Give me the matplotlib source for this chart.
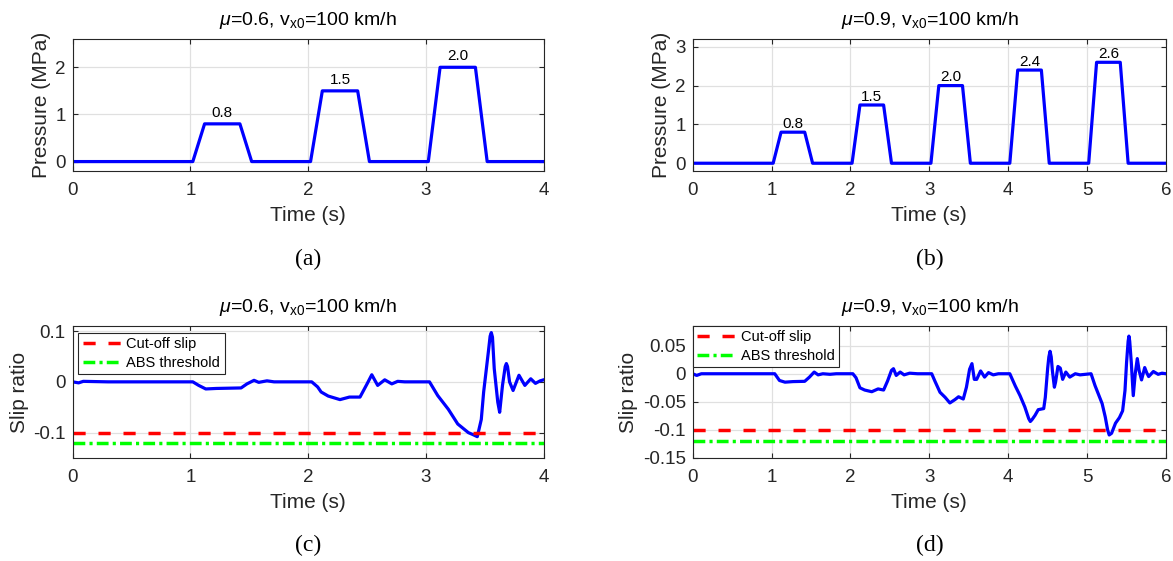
import matplotlib.pyplot as plt

plt.rcParams['font.family'] = ['Liberation Sans', 'DejaVu Sans']
plt.rcParams['mathtext.fontset'] = 'custom'
plt.rcParams['mathtext.rm'] = 'Liberation Sans'
plt.rcParams['mathtext.it'] = 'Liberation Sans:italic'

# Pressure profiles (vertices of the trapezoids)
t_press_a = [0, 1.02, 1.12, 1.42, 1.52, 2.02, 2.12, 2.42, 2.52, 3.02, 3.12, 3.42, 3.52, 4.0]
p_a = [0, 0, 0.8, 0.8, 0, 0, 1.5, 1.5, 0, 0, 2.0, 2.0, 0, 0]
t_press_b = [0, 1.02, 1.12, 1.42, 1.52, 2.02, 2.12, 2.42, 2.52, 3.02, 3.12, 3.42, 3.52,
             4.02, 4.12, 4.42, 4.52, 5.02, 5.12, 5.42, 5.52, 6.0]
p_b = [0, 0, 0.8, 0.8, 0, 0, 1.5, 1.5, 0, 0, 2.0, 2.0, 0,
       0, 2.4, 2.4, 0, 0, 2.6, 2.6, 0, 0]
levels_a = [0.8, 1.5, 2.0]
level_t_a = [1.27, 2.27, 3.27]
levels_b = [0.8, 1.5, 2.0, 2.4, 2.6]
level_t_b = [1.27, 2.27, 3.27, 4.27, 5.27]

# Slip ratio, mu = 0.6
t_slip_c = [0, 0.05, 0.09, 0.3, 0.6, 1.02, 1.07, 1.13, 1.22, 1.43, 1.48, 1.54, 1.58, 1.65, 1.71,
            2.03, 2.08, 2.11, 2.17, 2.27, 2.35, 2.44, 2.5, 2.54, 2.59, 2.65, 2.71, 2.76, 2.82,
            3.03, 3.1, 3.19, 3.27, 3.36, 3.4, 3.436, 3.47, 3.49, 3.53, 3.545, 3.555, 3.565,
            3.58, 3.61, 3.626, 3.65, 3.673, 3.683, 3.693, 3.71, 3.74, 3.79, 3.84, 3.89, 3.93,
            3.97, 4.0]
slip_c = [0, -0.002, 0.001, 0, 0, 0, -0.007, -0.014, -0.013, -0.012, -0.004, 0.003, -0.001, 0.002, 0,
          0, -0.01, -0.02, -0.028, -0.035, -0.03, -0.03, -0.004, 0.014, -0.007, 0.004, -0.004, 0.001, 0,
          0, -0.027, -0.054, -0.083, -0.1, -0.104, -0.108, -0.074, -0.02, 0.059, 0.09, 0.097, 0.088,
          0.026, -0.04, -0.06, -0.007, 0.03, 0.036, 0.03, 0.0, -0.017, 0.013, -0.007, 0.006, -0.003,
          0.002, 0.004]

# Slip ratio, mu = 0.9
t_slip_d = [0, 0.05, 0.11, 0.5, 1.04, 1.1, 1.17, 1.27, 1.42, 1.48, 1.54, 1.59, 1.65, 1.74, 1.82,
            2.03, 2.07, 2.12, 2.18, 2.27, 2.35, 2.42, 2.47, 2.52, 2.545, 2.58, 2.63, 2.68, 2.75, 2.85,
            3.03, 3.07, 3.135, 3.2, 3.26, 3.325, 3.37, 3.43, 3.47, 3.51, 3.54, 3.57, 3.6, 3.65,
            3.70, 3.75, 3.81, 3.875, 4.02, 4.09, 4.15, 4.21, 4.26, 4.28, 4.3, 4.34, 4.38, 4.45,
            4.47, 4.5, 4.515, 4.53, 4.545, 4.56, 4.585, 4.6, 4.63, 4.66, 4.69, 4.73, 4.78, 4.85,
            4.91, 5.05, 5.1, 5.19, 5.23, 5.26, 5.28, 5.31, 5.36, 5.41, 5.45, 5.48, 5.5, 5.52,
            5.53, 5.54, 5.56, 5.585, 5.61, 5.636, 5.66, 5.69, 5.71, 5.73, 5.755, 5.78, 5.84,
            5.9, 5.95, 6.0]
slip_d = [0, -0.003, 0, 0, 0, -0.012, -0.015, -0.014, -0.0135, -0.006, 0.003, -0.002, 0, -0.001, 0,
          0, -0.007, -0.025, -0.029, -0.032, -0.027, -0.029, -0.013, 0.006, 0.009, -0.003, 0.003, -0.002, 0.001, 0,
          0, -0.013, -0.033, -0.042, -0.052, -0.046, -0.041, -0.045, -0.024, 0.008, 0.018, -0.01, -0.01, 0.005,
          -0.006, 0.002, -0.002, 0, 0, -0.022, -0.039, -0.059, -0.08, -0.085, -0.082, -0.074, -0.064, -0.062,
          -0.042, 0.01, 0.03, 0.04, 0.03, 0.005, -0.024, -0.015, 0.013, 0.01, -0.01, 0.003, -0.006, 0,
          -0.002, 0, -0.021, -0.053, -0.077, -0.1, -0.109, -0.106, -0.088, -0.078, -0.066, -0.03, 0.02, 0.058,
          0.067, 0.058, 0.02, -0.039, 0.0, 0.027, 0.005, -0.011, 0.0, 0.011, 0.002, -0.005, 0.004,
          -0.001, 0.001, 0]

cutoff_slip = -0.1
abs_threshold = -0.12

titles = [r'$\mu$=0.6, v$_{\mathrm{x0}}$=100 km/h', r'$\mu$=0.9, v$_{\mathrm{x0}}$=100 km/h']
panel_labels = ['(a)', '(b)', '(c)', '(d)']

W, H = 1173, 561
fig = plt.figure(figsize=(W / 100, H / 100), dpi=100)

def rect(x0, x1, y0, y1):
    return [x0 / W, 1 - y1 / H, (x1 - x0) / W, (y1 - y0) / H]

ax_a = fig.add_axes(rect(72.7, 543.7, 39, 171))
ax_b = fig.add_axes(rect(692.7, 1166, 39, 171))
ax_c = fig.add_axes(rect(72.7, 543.7, 326, 458))
ax_d = fig.add_axes(rect(692.7, 1166, 326, 458))

dark = (0.15, 0.15, 0.15)
blue = '#0000ff'

def style(ax, ylabel, title):
    ax.grid(True, color=(0.88, 0.88, 0.88), lw=0.9)
    ax.set_axisbelow(True)
    ax.tick_params(direction='in', top=True, right=True, length=3.5, width=0.8,
                   labelsize=13.5, colors=dark)
    ax.tick_params(axis='x', pad=8)
    ax.tick_params(axis='y', pad=5)
    for sp in ax.spines.values():
        sp.set_color(dark)
        sp.set_linewidth(0.8)
    ax.set_xlabel('Time (s)', fontsize=15, color=dark, labelpad=5)
    ax.set_ylabel(ylabel, fontsize=15, color=dark, labelpad=3)
    ax.set_title(title, fontsize=14, pad=10)

# (a)
ax_a.plot(t_press_a, p_a, color=blue, lw=2.3)
for t, lv in zip(level_t_a, levels_a):
    ax_a.annotate(f'{lv:.1f}', (t, lv), xytext=(0, 3), textcoords='offset points',
                  ha='center', va='bottom', fontsize=11)
ax_a.set_xlim(0, 4)
ax_a.set_ylim(-0.2, 2.6)
ax_a.set_yticks([0, 1, 2])
ax_a.set_xticks([0, 1, 2, 3, 4])
style(ax_a, 'Pressure (MPa)', titles[0])

# (b)
ax_b.plot(t_press_b, p_b, color=blue, lw=2.3)
for t, lv in zip(level_t_b, levels_b):
    ax_b.annotate(f'{lv:.1f}', (t, lv), xytext=(0, 1), textcoords='offset points',
                  ha='center', va='bottom', fontsize=11)
ax_b.set_xlim(0, 6)
ax_b.set_ylim(-0.2, 3.2)
ax_b.set_yticks([0, 1, 2, 3])
ax_b.set_xticks([0, 1, 2, 3, 4, 5, 6])
style(ax_b, 'Pressure (MPa)', titles[1])

# (c) and (d)
for ax, t, s, xmax, ylim, yt, yl, ttl, anchor in [
        (ax_c, t_slip_c, slip_c, 4, (-0.15, 0.11), [-0.1, 0, 0.1], ['-0.1', '0', '0.1'],
         titles[0], (0.012, 0.947)),
        (ax_d, t_slip_d, slip_d, 6, (-0.15, 0.085), [-0.15, -0.1, -0.05, 0, 0.05],
         ['-0.15', '-0.1', '-0.05', '0', '0.05'], titles[1], (0.0, 1.0))]:
    ax.plot(t, s, color=blue, lw=2.3)
    l1, = ax.plot([0, xmax], [cutoff_slip, cutoff_slip], color='#ff0000', lw=2.5,
                  label='Cut-off slip')
    l1.set_dashes([3.5, 3.7])
    l2, = ax.plot([0, xmax], [abs_threshold, abs_threshold], color='#00ff00', lw=2.5,
                  label='ABS threshold')
    l2.set_dashes([3.4, 1.2, 0.9, 1.2])
    ax.set_xlim(0, xmax)
    ax.set_ylim(*ylim)
    ax.set_yticks(yt)
    ax.set_yticklabels(yl)
    ax.set_xticks(range(xmax + 1))
    style(ax, 'Slip ratio', ttl)
    leg = ax.legend(handles=[l1, l2], loc='upper left', bbox_to_anchor=anchor,
                    borderaxespad=0, fontsize=10.5, fancybox=False, framealpha=1,
                    edgecolor=dark, handlelength=2.6, handletextpad=0.4,
                    borderpad=0.3, labelspacing=0.3)
    leg.get_frame().set_linewidth(0.8)

# panel labels
for ax, lab, y in [(ax_a, panel_labels[0], 259), (ax_b, panel_labels[1], 259),
                   (ax_c, panel_labels[2], 545), (ax_d, panel_labels[3], 545)]:
    pos = ax.get_position()
    fig.text(pos.x0 + pos.width / 2, 1 - y / H, lab, ha='center', va='center',
             fontsize=17, family='Liberation Serif')

fig.savefig('out.png', dpi=100)
